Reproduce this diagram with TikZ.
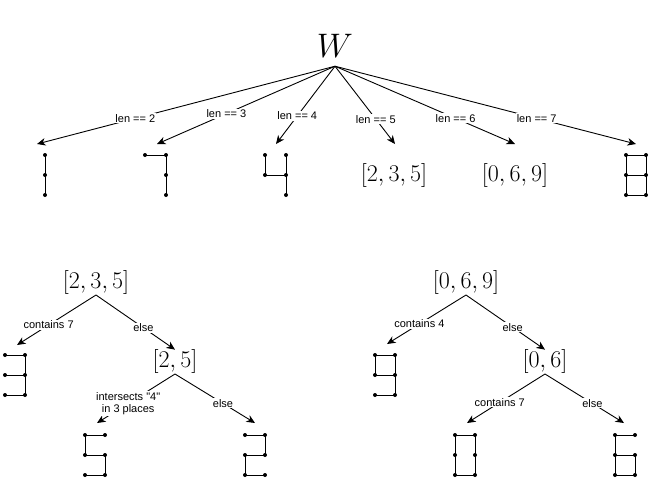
\documentclass[tikz,border=0pt]{standalone}
\usepackage{fix-cm}
\usepackage{fontspec}
\setsansfont{Liberation Sans}[Ligatures=TeXOff]
\usetikzlibrary{arrows.meta}

% a seven-segment style digit: #1,#2 = top-left dot, #3 = segment path, #4 = dot list
\newcommand\digitglyph[4]{%
  \begin{scope}[shift={(#1,#2)}]
    \draw[seg] #3;
    \edef\glyphdotlist{#4}%
    \foreach \p in \glyphdotlist \fill \p circle (2);
  \end{scope}}
\newcommand\alldots{(0,0),(20,0),(0,20),(20,20),(0,40),(20,40)}

\begin{document}
\begin{tikzpicture}[x=1pt,y=-1pt,
  edge/.style={draw, line width=0.9pt, -{Stealth[length=8.5pt,width=7.5pt,inset=2.5pt]}},
  lbl/.style={fill=white, inner sep=1pt, text=black,
    font=\sffamily\fontsize{11}{12.5}\selectfont, align=center},
  mathtxt/.style={inner sep=0pt, font=\fontsize{24}{28}\selectfont},
  seg/.style={line width=1pt, line join=miter}]
\useasboundingbox (0,0) rectangle (653,483);

% ---- root split on word length ----
\node[font=\fontsize{34}{40}\selectfont, inner xsep=0pt, inner ysep=9pt, anchor=base]
  (W) at (335,57) {$W$};
\coordinate (t2) at (37,144);
\coordinate (t3) at (157,144);
\coordinate (t4) at (276,144);
\coordinate (t5) at (395,144);
\coordinate (t6) at (515,144);
\coordinate (t7) at (636,144);

\draw[edge] (W.south) -- node[lbl, pos=0.67] {len == 2} (t2);
\draw[edge] (W.south) -- node[lbl, pos=0.61] {len == 3} (t3);
\draw[edge] (W.south) -- node[lbl, pos=0.64] {len == 4} (t4);
\draw[edge] (W.south) -- node[lbl, pos=0.68] {len == 5} (t5);
\draw[edge] (W.south) -- node[lbl, pos=0.67] {len == 6} (t6);
\draw[edge] (W.south) -- node[lbl, pos=0.67] {len == 7} (t7);

% leaves of the first split
\digitglyph{45}{155}{(0,0) -- (0,40)}{(0,0),(0,20),(0,40)}
\digitglyph{145}{155}{(0,0) -- (21,0) -- (21,40)}{(0,0),(21,0),(21,20),(21,40)}
\digitglyph{265}{155}{(0,0) -- (0,20) -- (21,20) (21,0) -- (21,40)}{(0,0),(21,0),(0,20),(21,20),(21,40)}
\node[mathtxt] (l5) at (394,175) {$[2,3,5]$};
\node[mathtxt] (l6) at (515,175) {$[0,6,9]$};
\digitglyph{626}{155}{(0,0) rectangle (20,40) (0,20) -- (20,20)}{\alldots}

% ---- length 5: {2,3,5} ----
\node[mathtxt, anchor=south] (a1) at (96,295) {$[2,3,5]$};
\coordinate (a1l) at (17,345);
\node[mathtxt, anchor=south] (a2) at (175,374) {$[2,5]$};
\draw[edge] (a1.south) -- node[lbl, pos=0.6] {contains 7} (a1l);
\draw[edge] (a1.south) -- node[lbl, pos=0.6] {else} (a2.north);
\digitglyph{5}{355}{(0,0) -- (20,0) -- (20,40) -- (0,40) (0,20) -- (20,20)}{\alldots}

\coordinate (a2l) at (97,423);
\coordinate (a2r) at (255,423);
\draw[edge] (a2.south) -- node[lbl, pos=0.6] {intersects "4"\\in 3 places} (a2l);
\draw[edge] (a2.south) -- node[lbl, pos=0.6] {else} (a2r);
\digitglyph{85}{435}{(20,0) -- (0,0) -- (0,20) -- (20,20) -- (20,40) -- (0,40)}{\alldots}
\digitglyph{245}{435}{(0,0) -- (20,0) -- (20,20) -- (0,20) -- (0,40) -- (20,40)}{\alldots}

% ---- length 6: {0,6,9} ----
\node[mathtxt, anchor=south] (b1) at (466,295) {$[0,6,9]$};
\coordinate (b1l) at (387,344);
\node[mathtxt, anchor=south] (b2) at (545,374) {$[0,6]$};
\draw[edge] (b1.south) -- node[lbl, pos=0.59] {contains 4} (b1l);
\draw[edge] (b1.south) -- node[lbl, pos=0.59] {else} (b2.north);
\digitglyph{375}{355}{(20,20) -- (0,20) -- (0,0) -- (20,0) -- (20,40) -- (0,40)}{\alldots}

\coordinate (b2l) at (467,423);
\coordinate (b2r) at (624,423);
\draw[edge] (b2.south) -- node[lbl, pos=0.58] {contains 7} (b2l);
\draw[edge] (b2.south) -- node[lbl, pos=0.6] {else} (b2r);
\digitglyph{455}{435}{(0,0) rectangle (20,40)}{\alldots}
\digitglyph{615}{435}{(20,0) -- (0,0) -- (0,40) -- (20,40) -- (20,20) -- (0,20)}{\alldots}
\end{tikzpicture}
\end{document}
